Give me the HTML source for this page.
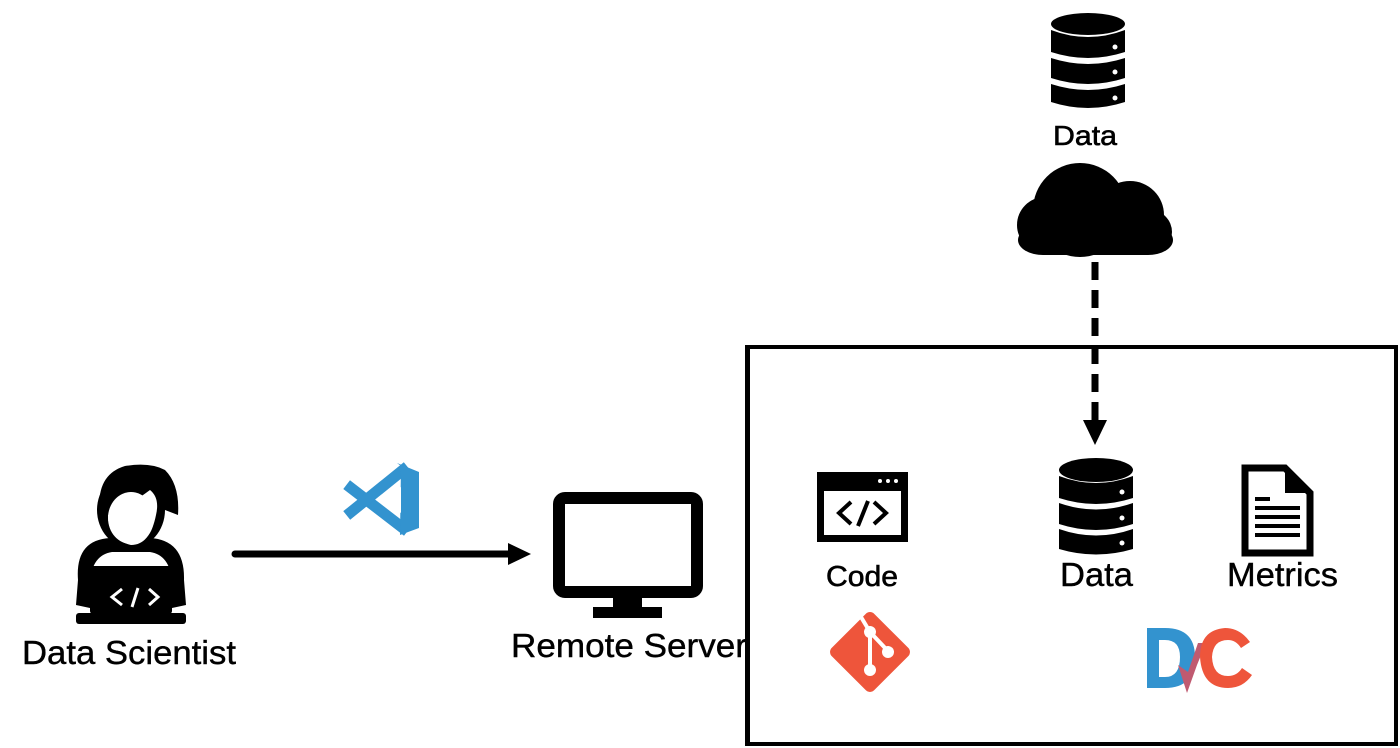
<!DOCTYPE html>
<html><head><meta charset="utf-8"><style>
html,body{margin:0;padding:0;background:#fff;width:1400px;height:748px;overflow:hidden}
svg{display:block}
text{font-family:"Liberation Sans",sans-serif;fill:#000}
</style></head><body>
<svg width="1400" height="748" viewBox="0 0 1400 748">
<!-- Top DB -->
<g fill="#000">
<ellipse cx="1088" cy="24" rx="37" ry="11"/>
<path d="M1051 30 Q1088 44 1125 30 L1125 52 Q1088 64 1051 52Z"/>
<path d="M1051 58 Q1088 70 1125 58 L1125 78 Q1088 90 1051 78Z"/>
<path d="M1051 84 Q1088 96 1125 84 L1125 102 Q1088 114 1051 102Z"/>
</g>
<g fill="#fff"><circle cx="1115" cy="47" r="2.5"/><circle cx="1115" cy="72" r="2.5"/><circle cx="1115" cy="98" r="2.5"/></g>
<text x="1053" y="145" font-size="28" textLength="64" lengthAdjust="spacingAndGlyphs" stroke="#000" stroke-width="0.6">Data</text>
<!-- Cloud -->
<g fill="#000">
<circle cx="1080" cy="210" r="47"/>
<circle cx="1130" cy="215" r="34"/>
<circle cx="1045" cy="225" r="28"/>
<circle cx="1150" cy="232" r="22"/>
<rect x="1018" y="225" width="155" height="30" rx="25"/>
</g>
<!-- dashed arrow -->
<line x1="1095" y1="262" x2="1095" y2="422" stroke="#000" stroke-width="7" stroke-dasharray="18,10"/>
<polygon points="1083,420 1107,420 1095,445" fill="#000"/>
<!-- Box -->
<rect x="747" y="347" width="649" height="397" fill="none" stroke="#000" stroke-width="4"/>
<!-- Person -->
<g fill="#000">
<path d="M100 515 Q95 475 125 466 Q150 462 165 470 Q180 485 178 515 L165 510 Q160 495 150 490 Q125 500 108 505Z"/>
<ellipse cx="131" cy="510" rx="34" ry="38"/>
<path d="M78 580 Q75 540 110 538 L150 538 Q185 540 184 580 L186 605 L172 608 L172 582 Q170 555 150 552 L112 552 Q92 555 90 582 L90 608 L76 605Z"/>
<rect x="90" y="566" width="82" height="48" rx="3"/>
<rect x="76" y="613" width="110" height="11" rx="3"/>
</g>
<ellipse cx="131" cy="518" rx="23" ry="26" fill="#fff"/>
<path d="M108 515 Q130 505 150 490 Q160 498 156 515 Q150 545 131 545 Q108 540 108 515Z" fill="#fff"/>
<path d="M122 589 L112 597 L122 605 M132 607 L138 588 M149 589 L158 597 L149 605" stroke="#fff" stroke-width="3" fill="none"/>
<text x="22" y="664" font-size="33" textLength="214" lengthAdjust="spacingAndGlyphs" stroke="#000" stroke-width="0.4">Data Scientist</text>
<!-- VS Code -->
<g stroke="#3393cf" stroke-width="11" stroke-linecap="square">
<line x1="351" y1="488" x2="403" y2="528"/>
<line x1="351" y1="512" x2="403" y2="470"/>
</g>
<polygon points="397,463 419,472 419,528 400,535 401,466" fill="#3393cf"/>
<polygon points="386,500 401,487 401,513" fill="#fff"/>
<!-- arrow -->
<line x1="235" y1="554" x2="512" y2="554" stroke="#000" stroke-width="7" stroke-linecap="round"/>
<polygon points="508,543 531,554 508,565" fill="#000"/>
<!-- Monitor -->
<rect x="559" y="498" width="138" height="94" rx="6" fill="none" stroke="#000" stroke-width="12"/>
<rect x="613" y="595" width="29" height="15" fill="#000"/>
<rect x="593" y="607" width="69" height="11" fill="#000"/>
<text x="511" y="657" font-size="33" textLength="236" lengthAdjust="spacingAndGlyphs" stroke="#000" stroke-width="0.4">Remote Server</text>
<rect x="745" y="345" width="5" height="401" fill="#000"/>
<!-- Code icon -->
<rect x="817" y="472" width="91" height="70" fill="#000"/>
<rect x="824" y="491" width="77" height="44" fill="#fff"/>
<g fill="#fff"><circle cx="880" cy="481" r="2"/><circle cx="888" cy="481" r="2"/><circle cx="896" cy="481" r="2"/></g>
<path d="M851 502 L839 513 L851 524 M868 501 L858 526 M874 502 L886 513 L874 524" stroke="#000" stroke-width="4" fill="none"/>
<text x="826" y="586" font-size="29" textLength="72" lengthAdjust="spacingAndGlyphs" stroke="#000" stroke-width="0.6">Code</text>
<!-- Data DB -->
<g fill="#000">
<ellipse cx="1096" cy="470" rx="37" ry="12"/>
<path d="M1059 476 Q1096 490 1133 476 L1133 498 Q1096 510 1059 498Z"/>
<path d="M1059 503 Q1096 516 1133 503 L1133 524 Q1096 536 1059 524Z"/>
<path d="M1059 529 Q1096 542 1133 529 L1133 549 Q1096 560 1059 549Z"/>
</g>
<g fill="#fff"><circle cx="1122" cy="492" r="2.5"/><circle cx="1122" cy="518" r="2.5"/><circle cx="1122" cy="543" r="2.5"/></g>
<text x="1060" y="586" font-size="33" textLength="73" lengthAdjust="spacingAndGlyphs" stroke="#000" stroke-width="0.4">Data</text>
<!-- Metrics doc -->
<path d="M1245 468 L1285 468 L1310 493 L1310 553 L1245 553Z" fill="#fff" stroke="#000" stroke-width="7"/>
<path d="M1285 468 L1285 493 L1310 493Z" fill="#000"/>
<g fill="#000"><rect x="1255" y="497" width="15" height="4"/><rect x="1255" y="506" width="45" height="4"/><rect x="1255" y="515" width="45" height="4"/><rect x="1255" y="524" width="45" height="4"/><rect x="1255" y="533" width="45" height="4"/></g>
<text x="1227" y="586" font-size="33" textLength="111" lengthAdjust="spacingAndGlyphs" stroke="#000" stroke-width="0.4">Metrics</text>
<!-- Git -->
<rect x="840" y="622" width="60" height="60" rx="6" fill="#ee553b" transform="rotate(45 870 652)"/>
<path d="M858 612 L870 632 L870 670 M870 632 L887 650" stroke="#fff" stroke-width="4" fill="none"/>
<g fill="#fff"><circle cx="870" cy="632" r="6"/><circle cx="888" cy="652" r="6"/><circle cx="870" cy="670" r="6"/></g>
<!-- DVC -->
<path d="M1147 628 L1165 628 Q1195 628 1195 657 Q1195 688 1165 688 L1147 688Z M1159 640 L1159 677 L1165 677 Q1180 677 1180 657 Q1180 640 1165 640Z" fill="#3393cf" fill-rule="evenodd"/>
<path d="M1178 665 L1187 693 L1197 665 L1206 643 L1198 643 L1188 672Z" fill="#c05a70"/>
<path d="M1250 642 Q1240 628 1225 628 Q1200 630 1200 657 Q1202 688 1228 688 Q1243 688 1252 675 L1242 668 Q1237 676 1228 676 Q1213 676 1212 657 Q1213 640 1228 640 Q1236 640 1241 648Z" fill="#ee553b"/>
</svg>
</body></html>
